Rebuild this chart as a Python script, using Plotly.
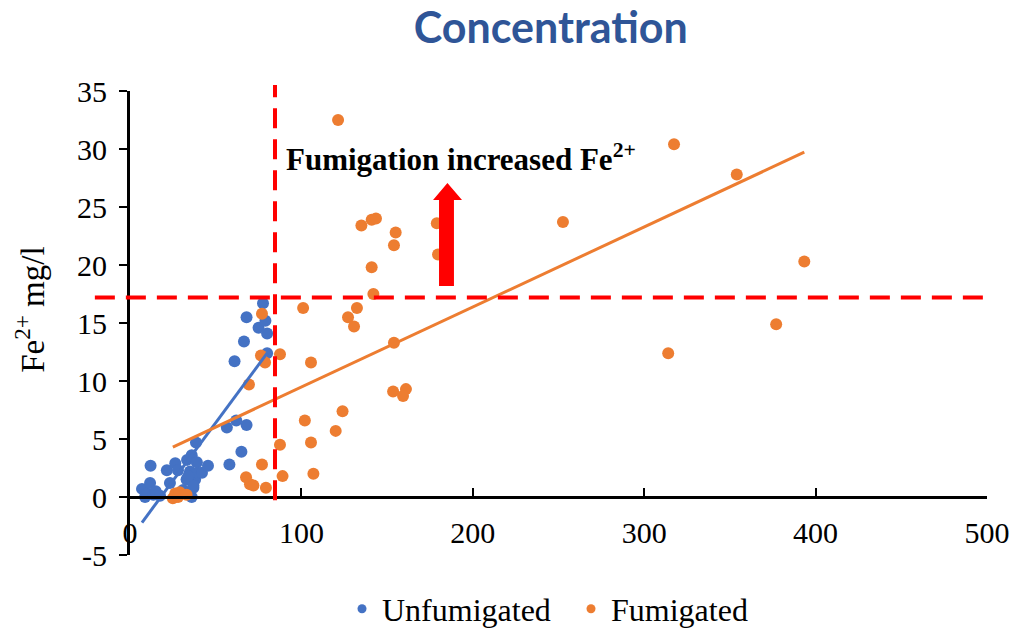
import plotly.graph_objects as go

# Unfumigated samples: x value and Fe2+ concentration (mg/l)
unfum_x = [7, 8.8, 10, 11.7, 12.0, 13.6, 15, 17.5, 21.5, 23.3,
           26.4, 28, 31, 33, 33.3, 35, 35, 36, 36, 37,
           38, 38.5, 39, 39.7, 42, 45.5, 56.5, 58, 62, 65,
           68, 61, 66.5, 75, 80, 80, 79, 68, 77.6, 37, 34]
unfum_y = [0.7, 0.0, 0.3, 1.2, 2.7, 0.2, 0.5, 0.1, 2.3, 1.2,
           2.9, 2.3, 0.6, 1.5, 3.2, 2.2, 0.2, 3.6, 0.0, 0.8,
           1.5, 4.7, 3.0, 2.1, 2.1, 2.7, 6.0, 2.8, 6.6, 3.9,
           6.2, 11.7, 13.4, 14.6, 14.1, 12.4, 15.2, 15.5, 16.7, 1.0, 1.8]

# Fumigated samples
fum_x = [25, 26.4, 28, 29, 33, 121.4, 317.4, 354, 252.6, 393.4, 377, 314,
         135, 141, 143.5, 155, 154, 141, 142, 179, 179.7,
         101, 132.4, 127.2, 130.7, 154, 105.6, 87.5, 153.5, 161, 159.3,
         124, 120, 102, 105.6, 87.5, 107, 89, 77, 67.7, 70, 72, 79.3,
         77, 76.4, 78.8, 69.4]
fum_y = [-0.1, 0.3, 0.0, 0.4, 0.2, 32.5, 30.4, 27.8, 23.7, 20.3, 14.9, 12.4,
         23.4, 23.9, 24.0, 22.8, 21.7, 19.8, 17.5, 23.6, 20.9,
         16.3, 16.3, 15.5, 14.7, 13.3, 11.6, 12.3, 9.1, 9.3, 8.7,
         7.4, 5.7, 6.6, 4.7, 4.5, 2.0, 1.8, 2.8, 1.7, 1.1, 1.0, 0.8,
         15.8, 12.2, 11.6, 9.7]

# Linear trendline coefficients (slope, intercept)
unfum_fit = (0.2, -3.6)
fum_fit = (0.069, 2.58)

# Threshold guides
x_threshold = 84.6
y_threshold = 17.2

x_ticks = [0, 100, 200, 300, 400, 500]
x_tick_labels = ["0", "100", "200", "300", "400", "500"]
y_ticks = [-5, 0, 5, 10, 15, 20, 25, 30, 35]
y_tick_labels = ["-5", "0", "5", "10", "15", "20", "25", "30", "35"]

BLUE = "#4472C4"
ORANGE = "#ED7D31"
RED = "#FF0000"
SERIF = "Liberation Serif, Times New Roman, serif"


def trend(xs, fit):
    lo, hi = min(xs), max(xs)
    return [lo, hi], [fit[0] * lo + fit[1], fit[0] * hi + fit[1]]


fig = go.Figure()

fig.add_trace(go.Scatter(x=unfum_x, y=unfum_y, mode="markers",
                         marker=dict(color=BLUE, size=12), showlegend=False))
fig.add_trace(go.Scatter(x=fum_x, y=fum_y, mode="markers",
                         marker=dict(color=ORANGE, size=12), showlegend=False))

tx, ty = trend(unfum_x, unfum_fit)
fig.add_trace(go.Scatter(x=tx, y=ty, mode="lines",
                         line=dict(color=BLUE, width=3), showlegend=False))
tx, ty = trend(fum_x, fum_fit)
fig.add_trace(go.Scatter(x=tx, y=ty, mode="lines",
                         line=dict(color=ORANGE, width=3), showlegend=False))

# Legend entries with smaller symbols
fig.add_trace(go.Scatter(x=[None], y=[None], mode="markers", name="Unfumigated",
                         marker=dict(color=BLUE, size=9)))
fig.add_trace(go.Scatter(x=[None], y=[None], mode="markers", name="Fumigated",
                         marker=dict(color=ORANGE, size=9)))

# Dashed threshold lines
fig.add_shape(type="line", xref="paper", yref="y", x0=-0.041, x1=1.004,
              y0=y_threshold, y1=y_threshold,
              line=dict(color=RED, width=4, dash="20px,11px"))
fig.add_shape(type="line", xref="x", yref="paper", x0=x_threshold, x1=x_threshold,
              y0=0.118, y1=1.013,
              line=dict(color=RED, width=4, dash="20px,11px"))

# Upward arrow
ax_l, ax_r, ax_c = 180.3, 189.0, 185.2
head_l, head_r = 176.8, 193.7
ay_b, ay_h, ay_t = 18.2, 25.6, 27.07
fig.add_shape(type="path", xref="x", yref="y",
              path=(f"M{ax_l},{ay_b} L{ax_r},{ay_b} L{ax_r},{ay_h} L{head_r},{ay_h} "
                    f"L{ax_c},{ay_t} L{head_l},{ay_h} L{ax_l},{ay_h} Z"),
              fillcolor=RED, line=dict(width=0))

fig.add_annotation(x=90.0, y=29.3, xref="x", yref="y", xanchor="left", yanchor="middle",
                   text="<b>Fumigation increased Fe<sup>2+</sup></b>", showarrow=False,
                   font=dict(family=SERIF, size=31, color="black"))

fig.add_annotation(x=-0.117, y=0.528, xref="paper", yref="paper", textangle=-90,
                   xanchor="center", yanchor="middle",
                   text="Fe<sup>2+</sup> mg/l", showarrow=False,
                   font=dict(family=SERIF, size=33, color="black"))

fig.update_layout(
    width=1014, height=631,
    margin=dict(l=130, r=27, t=91, b=76, autoexpand=False),
    paper_bgcolor="white", plot_bgcolor="white",
    title=dict(text="<b>Concentration</b>", x=0.491, xref="paper", xanchor="center",
               y=1 - 28 / 631, yref="container", yanchor="middle",
               font=dict(family="Lato, Open Sans, sans-serif", size=43, color="#2F5597")),
    xaxis=dict(range=[0, 500], tickvals=x_ticks, ticktext=x_tick_labels,
               showgrid=False, zeroline=False,
               showline=True, linecolor="black", linewidth=3,
               ticks="inside", ticklen=8, tickwidth=2, tickcolor="black",
               anchor="free", position=0.125, ticklabelstandoff=8,
               tickfont=dict(family=SERIF, size=30, color="black")),
    yaxis=dict(range=[-5, 35], tickvals=y_ticks, ticktext=y_tick_labels,
               showgrid=False, zeroline=False,
               showline=True, linecolor="black", linewidth=3,
               ticks="outside", ticklen=8, tickwidth=2, tickcolor="black",
               ticklabelstandoff=6,
               tickfont=dict(family=SERIF, size=30, color="black")),
    legend=dict(orientation="h", x=(362 - 20 - 130) / 857, xanchor="left",
                y=1 - 609 / 631, yref="container", yanchor="middle",
                entrywidth=184, entrywidthmode="pixels",
                font=dict(family=SERIF, size=32, color="black"), itemwidth=30),
)

fig.write_html("out.html")
